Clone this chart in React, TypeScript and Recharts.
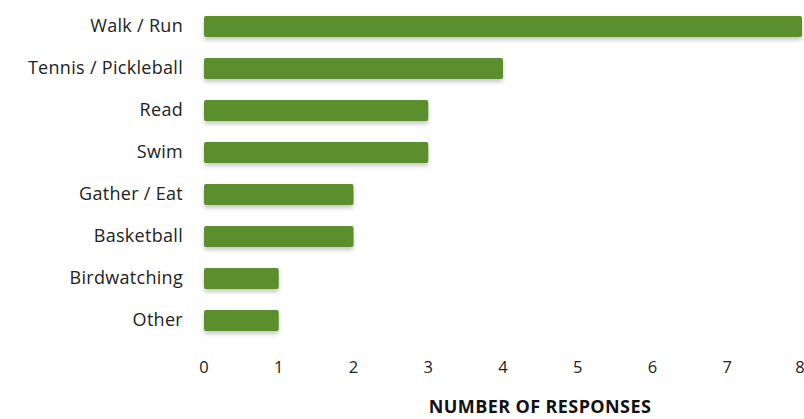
import { BarChart, Bar, XAxis, YAxis, Rectangle } from 'recharts';

const activities = [
  'Walk / Run',
  'Tennis / Pickleball',
  'Read',
  'Swim',
  'Gather / Eat',
  'Basketball',
  'Birdwatching',
  'Other',
];
const responses = [8, 4, 3, 3, 2, 2, 1, 1];
const xTicks = [0, 1, 2, 3, 4, 5, 6, 7, 8];

const data = activities.map((name, i) => ({ name, value: responses[i] }));

const font = "'Open Sans', sans-serif";

export default function App() {
  return (
    <div style={{ position: 'absolute', left: 0, top: 0, width: 804, height: 419, background: '#fff' }}>
      <BarChart
        width={804}
        height={419}
        data={data}
        layout="vertical"
        margin={{ top: 5, right: 2, left: 0, bottom: 0 }}
        barSize={21}
      >
        <XAxis
          type="number"
          domain={[0, 8]}
          ticks={xTicks}
          axisLine={false}
          tickLine={false}
          tickSize={0}
          tickMargin={20}
          height={78}
          tick={{ fill: '#222', fontSize: 16.5, fontFamily: font }}
          label={{
            value: 'NUMBER OF RESPONSES',
            position: 'insideBottom',
            offset: 6,
            dx: 37,
            fill: '#111',
            fontSize: 18,
            fontWeight: 700,
            letterSpacing: 0.4,
            fontFamily: font,
          }}
        />
        <YAxis
          type="category"
          dataKey="name"
          width={204}
          axisLine={false}
          tickLine={false}
          tickSize={0}
          tickMargin={21}
          tick={{ fill: '#222', fontSize: 18, letterSpacing: 0.3, fontFamily: font }}
        />
        <Bar
          dataKey="value"
          fill="#5b8f2d"
          isAnimationActive={false}
          shape={(props: any) => (
            <Rectangle
              {...props}
              radius={2}
              style={{ filter: 'drop-shadow(0px 3px 2px rgba(0,0,0,0.22))' }}
            />
          )}
        />
      </BarChart>
    </div>
  );
}
